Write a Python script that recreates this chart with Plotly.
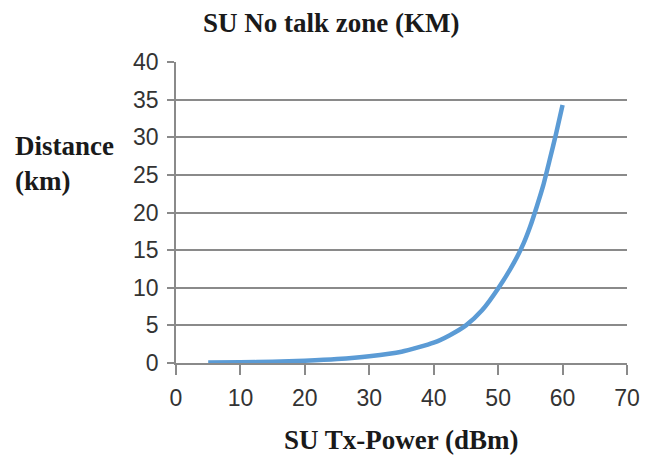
import plotly.graph_objects as go

tx_power_dbm = [5, 10, 15, 20, 25, 30, 35, 40, 42.5, 45, 47.5, 50, 52.5, 54, 55, 56, 57, 58, 59, 60]
distance_km = [0.05, 0.09, 0.16, 0.3, 0.52, 0.9, 1.5, 2.7, 3.7, 5.0, 7.0, 9.9, 13.4, 16.0, 18.2, 20.8, 23.6, 27.0, 30.5, 34.3]

title_text = "SU No talk zone (KM)"
x_title = "SU Tx-Power (dBm)"
y_title = "Distance<br>(km)"

W, H = 652, 456
L, R, T, B = 176, 25, 62, 93
pw, ph = W - L - R, H - T - B

def px_x(px):
    return (px - L) / pw

def px_y(py):
    return (H - B - py) / ph

fig = go.Figure()
fig.add_trace(go.Scatter(
    x=tx_power_dbm, y=distance_km, mode="lines",
    line=dict(color="#5B9BD5", width=4.5, shape="spline", smoothing=0.6),
    showlegend=False, hoverinfo="skip"))

tick_font = dict(family="Liberation Sans, Arial, sans-serif", size=23, color="#333333")
serif = "Liberation Serif, Times New Roman, serif"

fig.update_layout(
    width=W, height=H,
    margin=dict(l=L, r=R, t=T, b=B),
    paper_bgcolor="white", plot_bgcolor="white",
    xaxis=dict(range=[0, 70], dtick=10, tick0=0, showgrid=False, zeroline=False,
               showline=True, linecolor="#8a8a8a", linewidth=1.5,
               ticks="outside", ticklen=10, tickcolor="#8a8a8a", tickwidth=1.5,
               tickfont=tick_font, ticklabelstandoff=4, fixedrange=True),
    yaxis=dict(range=[0, 40], dtick=5, tick0=0, showgrid=True, gridcolor="#8a8a8a", gridwidth=1.5,
               zeroline=False, showline=True, linecolor="#8a8a8a", linewidth=1.5,
               ticks="outside", ticklen=7, tickcolor="#8a8a8a", tickwidth=1.5,
               tickfont=tick_font, ticklabelstandoff=4, fixedrange=True),
    annotations=[
        dict(text="<b>" + title_text + "</b>", xref="paper", yref="paper",
             x=px_x(331), y=px_y(23), xanchor="center", yanchor="middle",
             showarrow=False, font=dict(family=serif, size=27, color="#1a1a1a")),
        dict(text="<b>" + x_title + "</b>", xref="paper", yref="paper",
             x=px_x(401), y=px_y(440), xanchor="center", yanchor="middle",
             showarrow=False, borderpad=0, font=dict(family=serif, size=27, color="#1a1a1a")),
        dict(text="<b>" + y_title + "</b>", xref="paper", yref="paper",
             x=px_x(13), y=px_y(163), xanchor="left", yanchor="middle", align="left",
             showarrow=False, font=dict(family=serif, size=27, color="#1a1a1a")),
    ],
)

fig.write_html("out.html", config={"displayModeBar": False},
               post_script="document.body.style.margin='0px';document.body.style.overflow='hidden';")
